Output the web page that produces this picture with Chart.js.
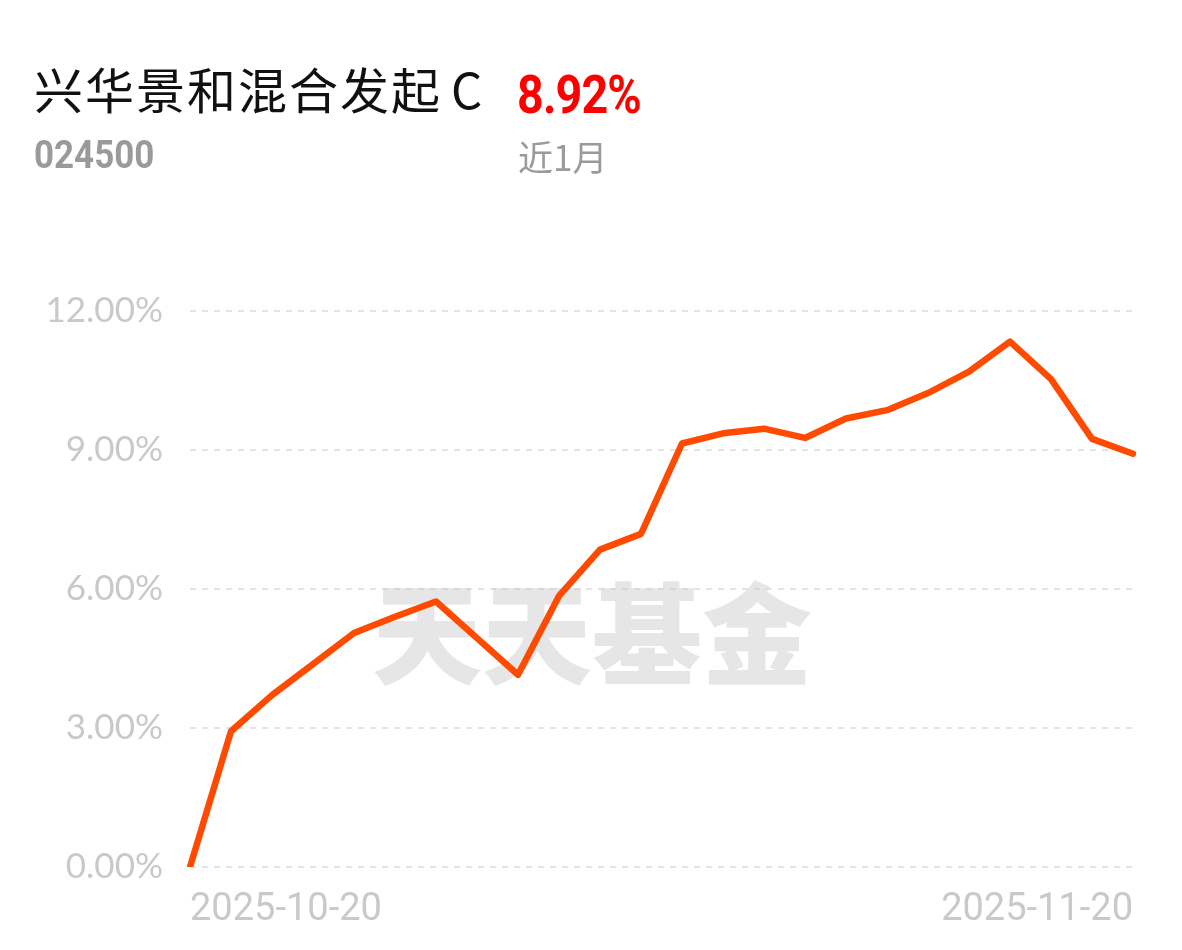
<!DOCTYPE html>
<html>
<head>
<meta charset="utf-8">
<script src="https://cdn.jsdelivr.net/npm/chart.js@4/dist/chart.umd.min.js"></script>
<style>
  body { margin: 0; background: #fff; }
  #wrap { position: relative; width: 1182px; height: 950px; overflow: hidden; }
  #chart { position: absolute; left: 0; top: 0; }
  .t { position: absolute; white-space: nowrap; line-height: 1; transform-origin: left top; }
  #name { left: 34px; top: 52px; font: 400 49px "Noto Sans CJK SC", sans-serif; color: #111; letter-spacing: 2px; }
  #name span { margin-left: 9px; }
  #pct { left: 517px; top: 64px; font: 700 53px Roboto, sans-serif; color: #ff0000; letter-spacing: -1px; transform: scaleX(0.88); }
  #code { left: 34px; top: 133px; font: 700 38px Roboto, sans-serif; color: #9a9a9a; transform: scaleX(0.92); }
  #period { left: 518px; top: 130px; font: 400 35px "Noto Sans CJK SC", sans-serif; color: #9a9a9a; }
</style>
</head>
<body>
<div id="wrap">
  <canvas id="chart" width="1182" height="950"></canvas>
  <div class="t" id="name">兴华景和混合发起<span>C</span></div>
  <div class="t" id="pct">8.92%</div>
  <div class="t" id="code">024500</div>
  <div class="t" id="period">近1月</div>
</div>
<script>
// ── data ──
const dates = ['2025-10-20', '2025-10-21', '2025-10-22', '2025-10-23', '2025-10-24',
    '2025-10-27', '2025-10-28', '2025-10-29', '2025-10-30', '2025-10-31',
    '2025-11-03', '2025-11-04', '2025-11-05', '2025-11-06', '2025-11-07',
    '2025-11-10', '2025-11-11', '2025-11-12', '2025-11-13', '2025-11-14',
    '2025-11-17', '2025-11-18', '2025-11-19', '2025-11-20'];
const returns = [0, 2.93, 3.71, 4.38, 5.05, 5.40, 5.73, 4.94, 4.15, 5.85,
    6.85, 7.19, 9.14, 9.36, 9.46, 9.26, 9.68, 9.86, 10.23, 10.69,
    11.34, 10.53, 9.24, 8.92];
const yTicks = [0, 3, 6, 9, 12];

const LINE = '#ff4a00';
const MUTED = '#c9c9c9';
const DIM = '#e4e4e4';

// ── watermark ──
const watermark = {
    id: 'watermark',
    beforeDatasetsDraw(chart) {
        const ctx = chart.ctx;
        ctx.save();
        ctx.fillStyle = 'rgba(200,200,200,0.45)';
        ctx.font = '900 110px "Noto Sans CJK SC", sans-serif';
        ctx.textAlign = 'center';
        ctx.textBaseline = 'middle';
        ctx.fillText('天天基金', 592, 634);
        ctx.restore();
    }
};

new Chart(document.getElementById('chart'), {
    type: 'line',
    data: {
        labels: dates,
        datasets: [{
            data: returns,
            borderColor: LINE,
            borderWidth: 6.5,
            borderJoinStyle: 'round',
            borderCapStyle: 'round',
            pointRadius: 0,
            tension: 0,
            fill: false
        }]
    },
    options: {
        responsive: false,
        animation: false,
        layout: { padding: { left: 0, right: 49, top: 311, bottom: 0 } },
        plugins: { legend: { display: false }, tooltip: { enabled: false } },
        scales: {
            x: {
                grid: { display: false },
                border: { display: false },
                afterFit(s) { s.height = 83; },
                ticks: {
                    autoSkip: false,
                    maxRotation: 0,
                    align: 'inner',
                    padding: 13,
                    color: MUTED,
                    font: { family: 'Roboto', size: 38 },
                    callback(v, i) {
                        return (i === 0 || i === dates.length - 1) ? dates[i] : '';
                    }
                }
            },
            y: {
                min: 0,
                max: 12,
                afterFit(s) { s.width = 190; },
                afterBuildTicks(s) { s.ticks = yTicks.map(v => ({ value: v })); },
                grid: { color: DIM, lineWidth: 2, drawTicks: false },
                border: { display: false, dash: [6, 6] },
                ticks: {
                    padding: 27,
                    color: MUTED,
                    font: { family: 'Lato', size: 35 },
                    callback: v => v.toFixed(2) + '%'
                }
            }
        }
    },
    plugins: [watermark]
});
</script>
</body>
</html>
